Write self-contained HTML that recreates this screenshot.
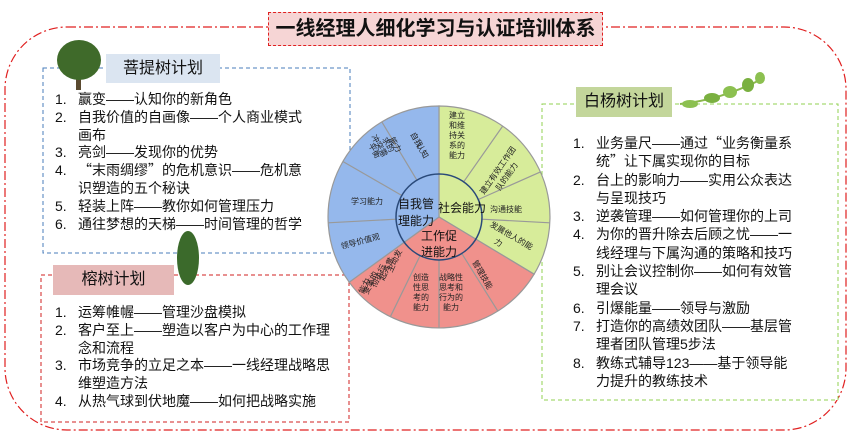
<!DOCTYPE html><html><head><meta charset="utf-8"><style>
body{margin:0;width:853px;height:442px;background:#fff;position:relative;overflow:hidden;font-family:"Liberation Sans","Noto Sans CJK SC",sans-serif;color:#111}
.a{position:absolute}
.lst{position:absolute;font-size:14px;line-height:17.8px}
.lst div{position:relative;padding-left:23px}
.lst div span{position:absolute;left:0}
q{quotes:none;font-family:"Noto Sans CJK SC",sans-serif}
</style></head><body>
<svg class="a" style="left:0;top:0" width="853" height="442">
<rect x="5" y="27" width="841" height="403" rx="62" fill="none" stroke="#e02020" stroke-width="1.2" stroke-dasharray="9,3,2,3"/>
<rect x="43" y="68" width="307" height="185" fill="#fff" stroke="#4a7ebb" stroke-width="1" stroke-dasharray="4,3"/>
<rect x="41" y="275" width="308" height="147" fill="#fff" stroke="#d02020" stroke-width="1" stroke-dasharray="4,3"/>
<rect x="542" y="104" width="296" height="296" fill="#fff" stroke="#92d050" stroke-width="1" stroke-dasharray="4,3"/>
<g transform="translate(439,217)" stroke="#999" stroke-width="1.2">
<path d="M0,0 L0,-111 A111,111 0 0 1 95.1,57.2 Z" fill="#d7ec9a"/>
<path d="M0,0 L95.1,57.2 A111,111 0 0 1 -89.8,65.2 Z" fill="#f0918c"/>
<path d="M0,0 L-89.8,65.2 A111,111 0 0 1 0,-111 Z" fill="#95b8ec"/>
<g>
<line x1="24.7" y1="-35.2" x2="63.7" y2="-90.9"/><line x1="39.3" y1="-17.5" x2="101.4" y2="-45.1"/><line x1="42.9" y1="2.2" x2="110.8" y2="5.8"/>
<line x1="22.8" y1="36.5" x2="58.8" y2="94.1"/><line x1="0" y1="43" x2="0" y2="111"/><line x1="-18.9" y1="38.6" x2="-48.7" y2="99.8"/>
<line x1="-42.9" y1="2.2" x2="-110.8" y2="5.8"/><line x1="-37.2" y1="-21.5" x2="-96.1" y2="-55.5"/><line x1="-22.1" y1="-36.8" x2="-57.2" y2="-95.2"/>
</g>
<circle r="43" fill="none" stroke="#2a4a7a" stroke-width="1.5"/>
</g>
<g font-size="8" fill="#222" text-anchor="middle" font-family="Liberation Sans,Noto Sans CJK SC,sans-serif">
<text x="457" y="118">建立</text><text x="457" y="128">和维</text><text x="457" y="138">持关</text><text x="457" y="148">系的</text><text x="457" y="158">能力</text>
<text transform="translate(500,172) rotate(-55)">建立有效工作团</text><text transform="translate(509,178) rotate(-55)">队的能力</text>
<text x="506" y="212">沟通技能</text>
<text transform="translate(510,238) rotate(30)">发展他人的能</text><text transform="translate(497,245) rotate(30)">力</text>
<text transform="translate(480,276) rotate(60)">管理技能</text>
<text x="451" y="280">战略性</text><text x="451" y="290">思考和</text><text x="451" y="300">行为的</text><text x="451" y="310">能力</text>
<text x="421" y="280">创造</text><text x="421" y="290">性思</text><text x="421" y="300">考的</text><text x="421" y="310">能力</text>
<text transform="translate(397,262) rotate(-65)">主动发</text><text transform="translate(389,270) rotate(-65)">起并贯</text><text transform="translate(381,277) rotate(-65)">彻执行</text><text transform="translate(373,284) rotate(-65)">变革的</text><text transform="translate(367,287) rotate(-65)">能力</text>
<text transform="translate(361,244) rotate(-15)">领导价值观</text>
<text x="367" y="204">学习能力</text>
<text transform="translate(372,152) rotate(60)">平衡</text><text transform="translate(377,147) rotate(60)">冲突需</text><text transform="translate(386,146) rotate(60)">求的</text><text transform="translate(393,146) rotate(60)">能力</text>
<text transform="translate(414,141) rotate(60)">自我</text><text transform="translate(420,152) rotate(60)">认知</text>
</g>
<g font-size="12" fill="#111" text-anchor="middle" font-family="Liberation Sans,Noto Sans CJK SC,sans-serif">
<text x="416" y="208">自我管</text><text x="416" y="225">理能力</text>
<text x="462" y="212">社会能力</text>
<text x="439" y="240">工作促</text><text x="439" y="256">进能力</text>
</g>
<rect x="76" y="70" width="5" height="20" fill="#5a4a30"/><ellipse cx="79" cy="60" rx="22" ry="20" fill="#3f6a2a"/>
<rect x="186" y="268" width="3" height="16" fill="#5a4a30"/><ellipse cx="188" cy="258" rx="11" ry="27" fill="#3b6a2b"/>
<path d="M680,104 Q720,100 760,80" stroke="#8ab84a" stroke-width="2" fill="none"/>
<ellipse cx="690" cy="104" rx="8" ry="4" fill="#8cc050"/><ellipse cx="712" cy="98" rx="8" ry="5" fill="#7ab040"/><ellipse cx="730" cy="92" rx="7" ry="6" fill="#8cc050"/><ellipse cx="748" cy="85" rx="6" ry="7" fill="#7ab040"/><ellipse cx="760" cy="78" rx="5" ry="6" fill="#8cc050"/>
</svg>
<div class="a" style="left:268px;top:12px;width:333px;height:32px;background:#f6d5d5;border:1px dashed #e02020;font-size:20px;font-weight:bold;text-align:center;line-height:32px">一线经理人细化学习与认证培训体系</div>
<div class="a" style="left:106px;top:54px;width:114px;height:29px;background:#dbe5f1;font-size:16px;line-height:29px;text-align:center">菩提树计划</div>
<div class="a" style="left:53px;top:265px;width:121px;height:30px;background:#e6b9b8;font-size:16px;line-height:30px;text-align:center">榕树计划</div>
<div class="a" style="left:576px;top:87px;width:96px;height:30px;background:#c3d69b;font-size:16px;line-height:30px;text-align:center">白杨树计划</div>
<div class="lst" style="left:55px;top:91px;width:253px">
<div><span>1.</span>赢变——认知你的新角色</div>
<div><span>2.</span>自我价值的自画像——个人商业模式画布</div>
<div><span>3.</span>亮剑——发现你的优势</div>
<div><span>4.</span><q>“</q>末雨绸缪<q>”</q>的危机意识——危机意识塑造的五个秘诀</div>
<div><span>5.</span>轻装上阵——教你如何管理压力</div>
<div><span>6.</span>通往梦想的天梯——时间管理的哲学</div>
</div>
<div class="lst" style="left:55px;top:304px;width:278px">
<div><span>1.</span>运筹帷幄——管理沙盘模拟</div>
<div><span>2.</span>客户至上——塑造以客户为中心的工作理念和流程</div>
<div><span>3.</span>市场竞争的立足之本——一线经理战略思维塑造方法</div>
<div><span>4.</span>从热气球到伏地魔——如何把战略实施</div>
</div>
<div class="lst" style="left:573px;top:134px;width:228px;line-height:18.3px">
<div><span>1.</span>业务量尺——通过<q>“</q>业务衡量系统<q>”</q>让下属实现你的目标</div>
<div><span>2.</span>台上的影响力——实用公众表达与呈现技巧</div>
<div><span>3.</span>逆袭管理——如何管理你的上司</div>
<div><span>4.</span>为你的晋升除去后顾之忧——一线经理与下属沟通的策略和技巧</div>
<div><span>5.</span>别让会议控制你——如何有效管理会议</div>
<div><span>6.</span>引爆能量——领导与激励</div>
<div><span>7.</span>打造你的高绩效团队——基层管理者团队管理5步法</div>
<div><span>8.</span>教练式辅导123——基于领导能力提升的教练技术</div>
</div>
</body></html>
